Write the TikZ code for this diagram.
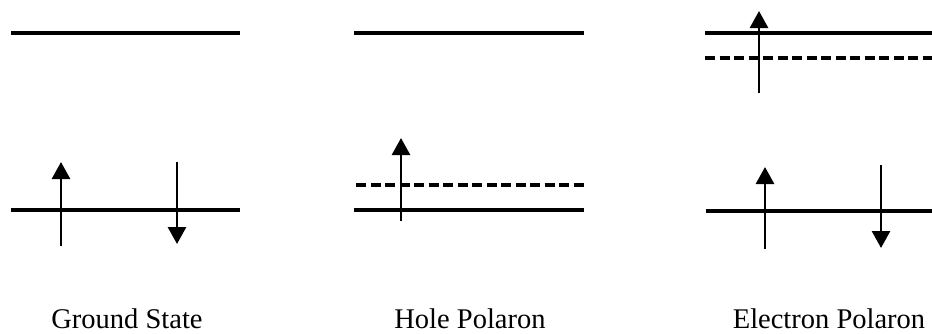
\documentclass[tikz,border=0pt]{standalone}
\usepackage{fontspec}
\setmainfont{Liberation Serif}
\usetikzlibrary{arrows.meta}
\begin{document}
\begin{tikzpicture}[x=1pt,y=-1pt,
  level/.style={line width=3.2pt},
  dlevel/.style={line width=3.4pt,dash pattern=on 10pt off 4.5pt},
  spin/.style={line width=2.8pt,-{Triangle[width=18pt,length=17pt]}},
  lbl/.style={anchor=base,font=\fontsize{28.5}{30}\selectfont,inner sep=0pt}]
\useasboundingbox (0,0) rectangle (932,333);
% Ground State
\draw[level] (11,33) -- (240,33);
\draw[level] (11,210) -- (240,210);
\draw[spin] (61,246) -- (61,162);
\draw[spin] (177,162) -- (177,244);
\node[lbl] (gs) at (127,328) {Ground State};
% Hole Polaron
\draw[level] (354,33) -- (584,33);
\draw[dlevel] (356,185) -- (584,185);
\draw[level] (354,210) -- (584,210);
\draw[spin] (401,221) -- (401,138);
\node[lbl] (hp) at (470,328) {Hole Polaron};
% Electron Polaron
\draw[level] (705,33) -- (932,33);
\draw[dlevel] (705,58) -- (932,58);
\draw[spin] (759,93) -- (759,11);
\draw[level] (706,211) -- (932,211);
\draw[spin] (765,249) -- (765,167);
\draw[spin] (881,165) -- (881,248);
\node[lbl] (ep) at (829,328) {Electron Polaron};
\end{tikzpicture}
\end{document}
